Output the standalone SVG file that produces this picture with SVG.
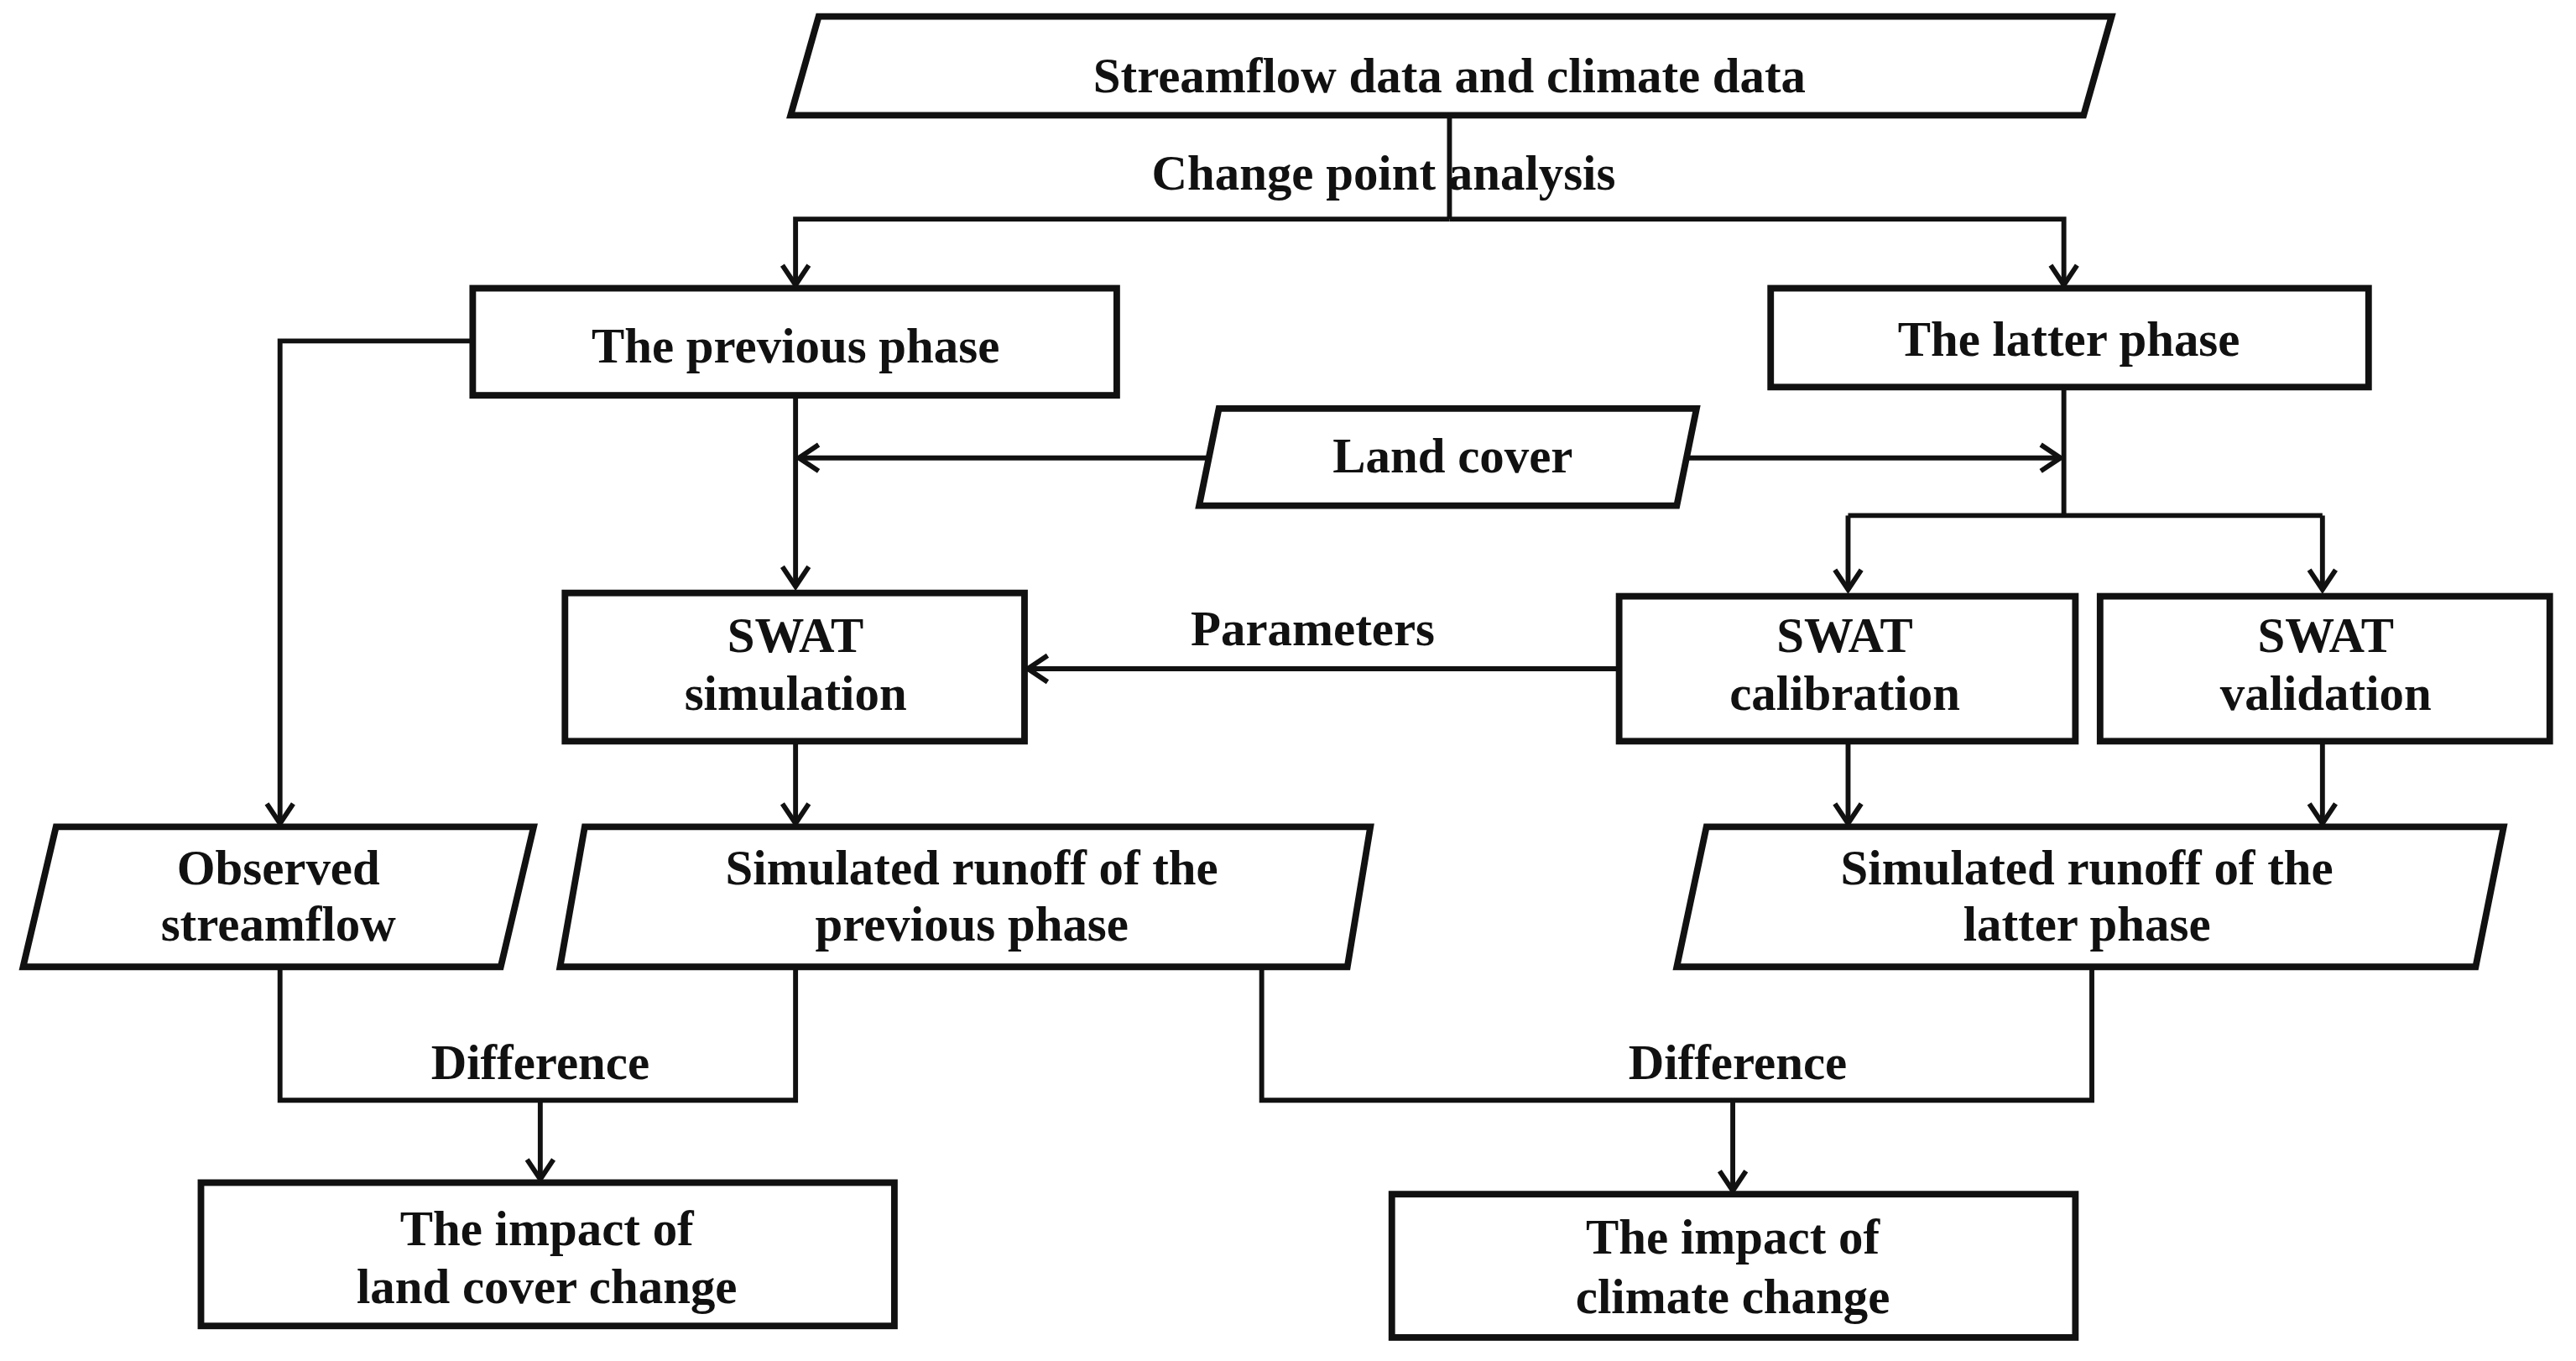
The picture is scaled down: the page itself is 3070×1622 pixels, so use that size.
<svg xmlns="http://www.w3.org/2000/svg" width="3070" height="1622" viewBox="0 0 3070 1622">
<defs>
<marker id="ah" markerUnits="userSpaceOnUse" viewBox="-14 -10 16 20" refX="0" refY="0" markerWidth="16" markerHeight="20" orient="auto" overflow="visible">
<path d="M-12,-8 L0,0 L-12,8" fill="none" stroke="#111" stroke-width="3"/>
</marker>
<style>
.b{fill:#fff;stroke:#111;stroke-width:4;stroke-linejoin:miter}
.c{fill:none;stroke:#111;stroke-width:3}
text{font-family:"Liberation Serif","Times New Roman",serif;font-weight:bold;font-size:30px;fill:#111;text-anchor:middle}
</style>
</defs>
<rect width="3070" height="1622" fill="#fff"/>
<g transform="scale(1.963)">
<g id="connectors">
<path class="c" d="M880,70 V133"/>
<path class="c" d="M880,133 H483 V173" marker-end="url(#ah)"/>
<path class="c" d="M880,133 H1253 V173" marker-end="url(#ah)"/>
<path class="c" d="M287,207 H170 V500" marker-end="url(#ah)"/>
<path class="c" d="M483,240 V356" marker-end="url(#ah)"/>
<path class="c" d="M734,278 H485" marker-end="url(#ah)"/>
<path class="c" d="M1024,278 H1251" marker-end="url(#ah)"/>
<path class="c" d="M1253,235 V313"/>
<path class="c" d="M1122,313 H1410"/>
<path class="c" d="M1122,313 V358" marker-end="url(#ah)"/>
<path class="c" d="M1410,313 V358" marker-end="url(#ah)"/>
<path class="c" d="M983,406 H624" marker-end="url(#ah)"/>
<path class="c" d="M483,450 V500" marker-end="url(#ah)"/>
<path class="c" d="M1122,450 V500" marker-end="url(#ah)"/>
<path class="c" d="M1410,450 V500" marker-end="url(#ah)"/>
<path class="c" d="M170,587 V668 H483 V587"/>
<path class="c" d="M328,668 V716" marker-end="url(#ah)"/>
<path class="c" d="M766,587 V668 H1270 V587"/>
<path class="c" d="M1052,668 V723" marker-end="url(#ah)"/>
<text x="840" y="115">Change point analysis</text>
<text x="797" y="392">Parameters</text>
<text x="328" y="655">Difference</text>
<text x="1055" y="655">Difference</text>
</g>
<g id="top"><path class="b" d="M497,10 H1282 L1265,70 H480 Z"/><text x="880" y="56">Streamflow data and climate data</text></g>
<g id="prev"><rect class="b" x="287" y="175" width="391" height="65"/><text x="483" y="220">The previous phase</text></g>
<g id="latter"><rect class="b" x="1075" y="175" width="363" height="60"/><text x="1256" y="216">The latter phase</text></g>
<g id="land"><path class="b" d="M740,248 H1030 L1018,307 H728 Z"/><text x="882" y="287">Land cover</text></g>
<g id="sim"><rect class="b" x="343" y="360" width="279" height="90"/><text x="483" y="396">SWAT</text><text x="483" y="431">simulation</text></g>
<g id="cal"><rect class="b" x="983" y="362" width="277" height="88"/><text x="1120" y="396">SWAT</text><text x="1120" y="431">calibration</text></g>
<g id="val"><rect class="b" x="1275" y="362" width="273" height="88"/><text x="1412" y="396">SWAT</text><text x="1412" y="431">validation</text></g>
<g id="obs"><path class="b" d="M34,502 H324 L304,587 H14 Z"/><text x="169" y="537">Observed</text><text x="169" y="571">streamflow</text></g>
<g id="simprev"><path class="b" d="M355,502 H832 L818,587 H340 Z"/><text x="590" y="537">Simulated runoff of the</text><text x="590" y="571">previous phase</text></g>
<g id="simlat"><path class="b" d="M1036,502 H1520 L1503,587 H1018 Z"/><text x="1267" y="537">Simulated runoff of the</text><text x="1267" y="571">latter phase</text></g>
<g id="implc"><rect class="b" x="122" y="718" width="421" height="87"/><text x="332" y="756">The impact of</text><text x="332" y="791">land cover change</text></g>
<g id="impcc"><rect class="b" x="845" y="725" width="415" height="87"/><text x="1052" y="761">The impact of</text><text x="1052" y="797">climate change</text></g>
</g>
</svg>
